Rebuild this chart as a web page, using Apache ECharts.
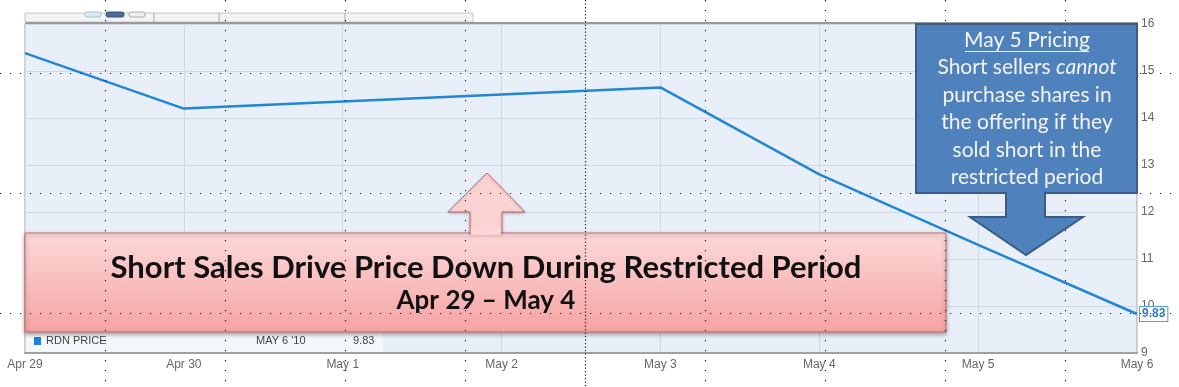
<!DOCTYPE html>
<html><head><meta charset="utf-8">
<script src="https://cdn.jsdelivr.net/npm/echarts@6/dist/echarts.min.js"></script>
<style>html,body{margin:0;padding:0;background:#fff}#c{width:1179px;height:387px}</style>
</head><body><div id="c"></div>
<script>
const categories = ['Apr 29','Apr 30','May 1','May 2','May 3','May 4','May 5','May 6'];
const prices = [15.38, 14.2, 14.35, 14.5, 14.65, 12.8, 11.3, 9.83];
const yMin = 9, yMax = 16, yStep = 1;
const legendName = 'RDN PRICE';
const legendDate = "MAY 6 '10";
const titleText = 'Short Sales Drive Price Down During Restricted Period';
const subText = 'Apr 29 \u2013 May 4';
const noteTitle = 'May 5 Pricing';
const noteLines = ['Short sellers ', 'purchase shares in', 'the offering if they', 'sold short in the', 'restricted period'];

const chart = echarts.init(document.getElementById('c'));
const lastVal = prices[prices.length - 1];

const dots = [];
const vx = [105,225,345,465,585,705,825,945,1065];
vx.forEach(x => dots.push({type:'line', z:40, silent:true,
  shape:{x1:x+0.5,y1:0,x2:x+0.5,y2:387},
  style:{stroke:'#222', lineWidth:1.2, lineDash: x===585?[1.2,2.3]:[1.2,8.8]}}));
[73,193,313].forEach(y => dots.push({type:'line', z:40, silent:true,
  shape:{x1:0,y1:y+0.5,x2:1179,y2:y+0.5},
  style:{stroke:'#222', lineWidth:1.2, lineDash:[1.2,8.8]}}));

const nf = '21px Lato, "Open Sans", sans-serif';
const graphics = [
  // toolbar fragments
  {type:'rect', z:5, silent:true, shape:{x:25,y:13,width:448,height:9}, style:{fill:'#f3f3f3', stroke:'#c8c8c8', lineWidth:1}},
  {type:'line', z:6, shape:{x1:154,y1:13,x2:154,y2:23}, style:{stroke:'#aaa'}},
  {type:'line', z:6, shape:{x1:219,y1:13,x2:219,y2:23}, style:{stroke:'#aaa'}},
  {type:'line', z:6, shape:{x1:345,y1:13,x2:345,y2:23}, style:{stroke:'#aaa'}},
  {type:'rect', z:6, shape:{x:85,y:12,width:16,height:5,r:2}, style:{fill:'#dfeaf0', stroke:'#9fc3cc'}},
  {type:'rect', z:6, shape:{x:106,y:12,width:18,height:5,r:2}, style:{fill:'#4a6a9a', stroke:'#3a5580'}},
  {type:'rect', z:6, shape:{x:129,y:12,width:16,height:5,r:2}, style:{fill:'#eee', stroke:'#aaa'}},
  {type:'line', z:7, shape:{x1:25,y1:23,x2:1138,y2:23}, style:{stroke:'#999', lineWidth:2}},
  // legend strip
  {type:'rect', z:8, shape:{x:26,y:333,width:357,height:19}, style:{fill:'#f4f7fc'}},
  {type:'rect', z:9, shape:{x:34,y:337,width:7,height:8}, style:{fill:'#1f7fd6'}},
  {type:'text', z:9, x:46, y:341, style:{text:legendName, fill:'#444', font:'11px "Liberation Sans", Arial', verticalAlign:'middle'}},
  {type:'text', z:9, x:256, y:341, style:{text:legendDate, fill:'#444', font:'11px "Liberation Sans", Arial', verticalAlign:'middle'}},
  {type:'text', z:9, x:353, y:341, style:{text:lastVal.toFixed(2), fill:'#444', font:'11px "Liberation Sans", Arial', verticalAlign:'middle'}},
  // pink box
  {type:'rect', z:20, shape:{x:25,y:233,width:921,height:99},
    style:{fill:new echarts.graphic.LinearGradient(0,0,0,1,[{offset:0,color:'#fcd9d9'},{offset:1,color:'#f6a3a3'}]),
      stroke:'#c96b6b', lineWidth:1, shadowBlur:4, shadowColor:'rgba(0,0,0,0.35)', shadowOffsetY:2}},
  {type:'polygon', z:21, shape:{points:[[487,173],[525,212],[502,212],[502,233],[470,233],[470,212],[448,212]]},
    style:{fill:'#fcd3d3', stroke:'#c96b6b', lineWidth:1, shadowBlur:3, shadowColor:'rgba(0,0,0,0.25)', shadowOffsetY:1}},
  {type:'rect', z:22, shape:{x:471,y:228,width:30,height:7}, style:{fill:'#fcd6d6'}},
  {type:'text', z:23, x:486, y:268, style:{text:titleText, fill:'#111', font:'bold 31px Lato, "Open Sans", sans-serif', align:'center', verticalAlign:'middle'}},
  {type:'text', z:23, x:486, y:301, style:{text:subText, fill:'#111', font:'bold 26px Lato, "Open Sans", sans-serif', align:'center', verticalAlign:'middle'}},
  // blue box
  {type:'rect', z:50, shape:{x:916,y:24,width:221,height:169}, style:{fill:'#4f81bd', stroke:'#385d8a', lineWidth:2}},
  {type:'polygon', z:50, shape:{points:[[1006,193],[1045,193],[1045,217],[1083,217],[1026,255],[970,217],[1006,217]]},
    style:{fill:'#4f81bd', stroke:'#385d8a', lineWidth:2}},
  {type:'rect', z:51, shape:{x:1007,y:186,width:37,height:10}, style:{fill:'#4f81bd'}},
  {type:'text', z:52, x:1027, y:40, style:{text:noteTitle, fill:'#f4f4f4', font:nf, align:'center', verticalAlign:'middle'}},
  {type:'line', z:52, shape:{x1:965,y1:51.5,x2:1089,y2:51.5}, style:{stroke:'#f4f4f4', lineWidth:1.2}},
  {type:'text', z:52, x:1027, y:67, style:{text:'{n|' + noteLines[0] + '}{i|cannot}', align:'center', verticalAlign:'middle',
    rich:{n:{fill:'#f4f4f4', font:nf}, i:{fill:'#f4f4f4', font:'italic ' + nf}}}},
  {type:'text', z:52, x:1027, y:95, style:{text:noteLines[1], fill:'#f4f4f4', font:nf, align:'center', verticalAlign:'middle'}},
  {type:'text', z:52, x:1027, y:122, style:{text:noteLines[2], fill:'#f4f4f4', font:nf, align:'center', verticalAlign:'middle'}},
  {type:'text', z:52, x:1027, y:150, style:{text:noteLines[3], fill:'#f4f4f4', font:nf, align:'center', verticalAlign:'middle'}},
  {type:'text', z:52, x:1027, y:177, style:{text:noteLines[4], fill:'#f4f4f4', font:nf, align:'center', verticalAlign:'middle'}}
].concat(dots);

chart.setOption({
  animation:false,
  grid:{left:25, right:42, top:24, bottom:34, show:true, backgroundColor:'#e9eff9', borderColor:'#a0a0a0', borderWidth:1},
  xAxis:{type:'category', data:categories, boundaryGap:false,
    axisLine:{show:true, lineStyle:{color:'#a0a0a0', width:2}}, axisTick:{show:false},
    axisLabel:{color:'#666', fontSize:12, fontFamily:'Liberation Sans, Arial', margin:6, interval:0},
    splitLine:{show:true, lineStyle:{color:'#d2d9e4', width:1}}},
  yAxis:{type:'value', position:'right', min:yMin, max:yMax, interval:yStep,
    axisLine:{show:false}, axisTick:{show:false},
    axisLabel:{color:'#666', fontSize:12, fontFamily:'Liberation Sans, Arial', margin:4},
    splitLine:{show:true, lineStyle:{color:'#d2d9e4', width:1}}},
  series:[{type:'line', data:prices, showSymbol:false, z:3,
    lineStyle:{color:'#2186d4', width:2.5},
    endLabel:{show:true, formatter: p => p.value.toFixed(2), color:'#2a7fc6', fontWeight:'bold', fontSize:12,
      fontFamily:'Liberation Sans, Arial', backgroundColor:'#fff', borderColor:'#5a9bd5', borderWidth:1, padding:[1,2], distance:3}}],
  graphic:graphics
});
</script></body></html>
